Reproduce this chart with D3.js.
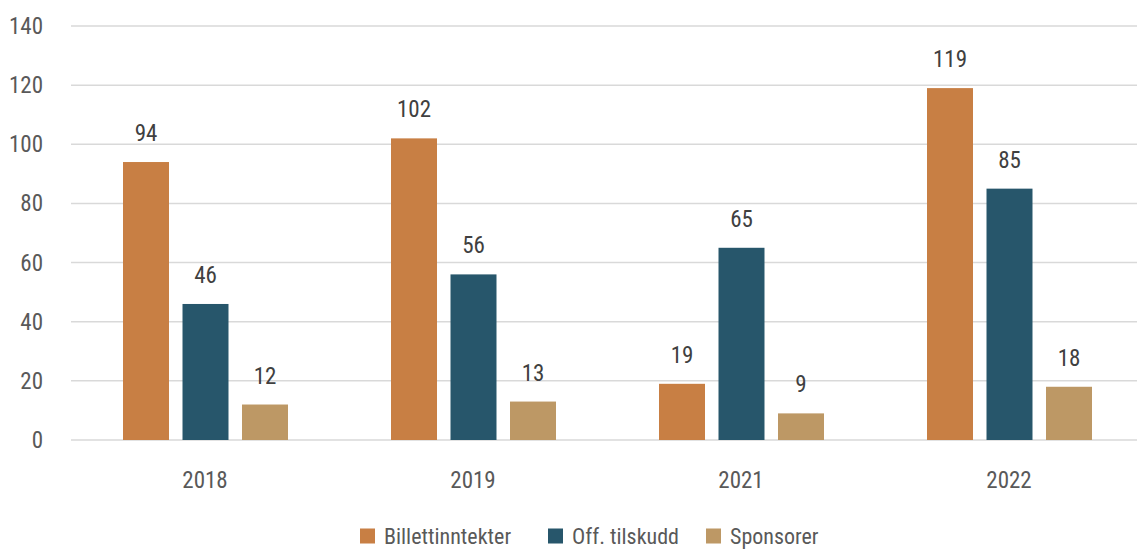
<!DOCTYPE html>
<html>
<head>
<meta charset="utf-8">
<script src="https://cdn.jsdelivr.net/npm/d3@7"></script>
<style>
  body { margin: 0; background: #fff; }
  svg text { font-family: "Roboto Condensed", "Liberation Sans Narrow", "DejaVu Sans Condensed", "Roboto", sans-serif; font-stretch: condensed; }
</style>
</head>
<body>
<div id="chart"></div>
<script>
// Data
const years = ['2018', '2019', '2021', '2022'];
const seriesNames = ['Billettinntekter', 'Off. tilskudd', 'Sponsorer'];
const billett = [94, 102, 19, 119];
const tilskudd = [46, 56, 65, 85];
const sponsorer = [12, 13, 9, 18];
const yTicks = [0, 20, 40, 60, 80, 100, 120, 140];
const colors = ['#C87F44', '#27566B', '#BD9865'];

const seriesValues = [billett, tilskudd, sponsorer];
const data = years.map((yr, i) => ({
    year: yr,
    values: seriesNames.map((s, j) => ({ key: s, value: seriesValues[j][i], color: colors[j] }))
}));

const width = 1137, height = 549;
const plot = { left: 71, right: 1143, top: 26, bottom: 440 };

const svg = d3.select('#chart')
    .append('svg')
    .attr('width', width)
    .attr('height', height);

const x0 = d3.scaleBand().domain(years).range([plot.left, plot.right]);
const x1 = d3.scaleBand().domain(seriesNames)
    .range([52, 217])
    .paddingInner(0.227)
    .paddingOuter(0);
const y = d3.scaleLinear().domain([0, 140]).range([plot.bottom, plot.top]);

// Gridlines
svg.append('g')
    .selectAll('line')
    .data(yTicks)
    .enter()
    .append('line')
    .attr('x1', plot.left)
    .attr('x2', width)
    .attr('y1', d => y(d))
    .attr('y2', d => y(d))
    .attr('stroke', '#d9d9d9')
    .attr('stroke-width', 1.5);

// Y axis labels
svg.append('g')
    .selectAll('text')
    .data(yTicks)
    .enter()
    .append('text')
    .attr('x', 43)
    .attr('y', d => y(d))
    .attr('dy', '0.35em')
    .attr('text-anchor', 'end')
    .attr('fill', '#595959')
    .style('font-size', '23px')
    .text(d => d);

// Bars
const groups = svg.selectAll('.grp')
    .data(data)
    .enter()
    .append('g')
    .attr('class', 'grp')
    .attr('transform', d => `translate(${x0(d.year)},0)`);

groups.selectAll('rect')
    .data(d => d.values)
    .enter()
    .append('rect')
    .attr('x', d => x1(d.key))
    .attr('width', x1.bandwidth())
    .attr('y', d => y(d.value))
    .attr('height', d => y(0) - y(d.value))
    .attr('fill', d => d.color);

groups.selectAll('text')
    .data(d => d.values)
    .enter()
    .append('text')
    .attr('x', d => x1(d.key) + x1.bandwidth() / 2)
    .attr('y', d => y(d.value) - 21)
    .attr('text-anchor', 'middle')
    .attr('fill', '#404040')
    .style('font-size', '23px')
    .text(d => d.value);

// Category labels
svg.append('g')
    .selectAll('text')
    .data(years)
    .enter()
    .append('text')
    .attr('x', d => x0(d) + x0.bandwidth() / 2)
    .attr('y', 480)
    .attr('dy', '0.35em')
    .attr('text-anchor', 'middle')
    .attr('fill', '#595959')
    .style('font-size', '23px')
    .text(d => d);

// Legend
const legendX = [360, 548, 706];
const legend = svg.append('g')
    .selectAll('g')
    .data(seriesNames)
    .enter()
    .append('g')
    .attr('transform', (d, i) => `translate(${legendX[i]},536)`);

legend.append('rect')
    .attr('x', 0)
    .attr('y', -7.5)
    .attr('width', 15)
    .attr('height', 15)
    .attr('fill', (d, i) => colors[i]);

legend.append('text')
    .attr('x', 24)
    .attr('y', 0)
    .attr('dy', '0.35em')
    .attr('fill', '#595959')
    .style('font-size', '22px')
    .text(d => d);
</script>
</body>
</html>
